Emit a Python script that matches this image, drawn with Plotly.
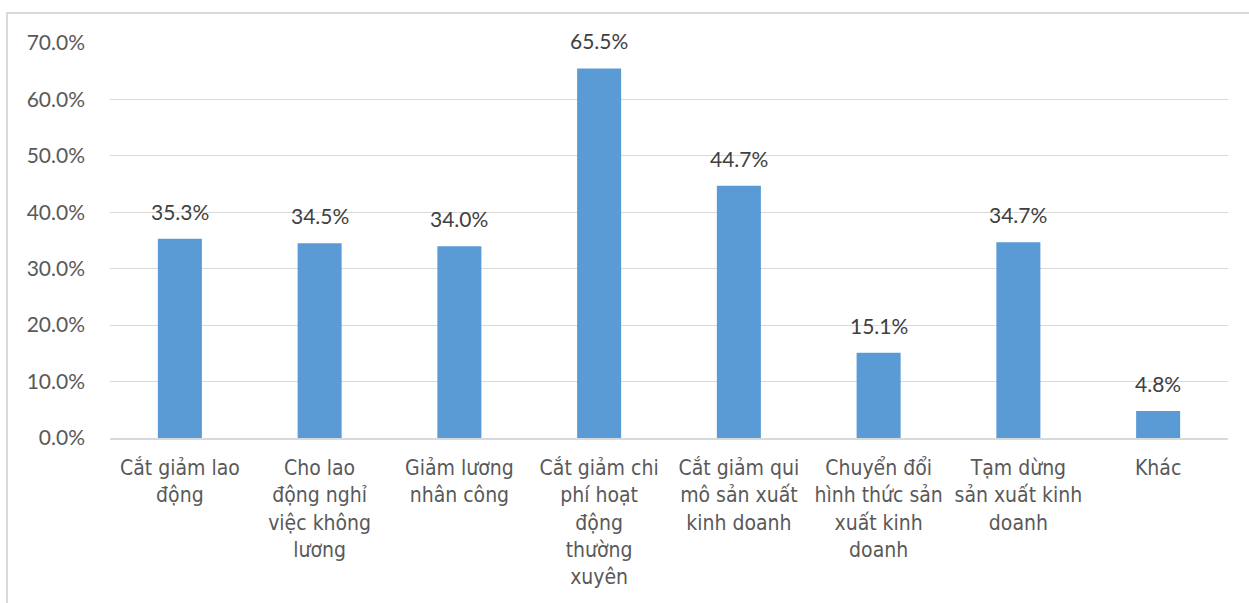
import plotly.graph_objects as go

categories = [
    "Cắt giảm lao<br>động",
    "Cho lao<br>động nghỉ<br>việc không<br>lương",
    "Giảm lương<br>nhân công",
    "Cắt giảm chi<br>phí hoạt<br>động<br>thường<br>xuyên",
    "Cắt giảm qui<br>mô sản xuất<br>kinh doanh",
    "Chuyển đổi<br>hình thức sản<br>xuất kinh<br>doanh",
    "Tạm dừng<br>sản xuất kinh<br>doanh",
    "Khác",
]
values = [35.3, 34.5, 34.0, 65.5, 44.7, 15.1, 34.7, 4.8]
tick_vals = [0, 10, 20, 30, 40, 50, 60, 70]
tick_text = [f"{v:.1f}%" for v in tick_vals]
value_labels = [f"{v:.1f}%" for v in values]
xs = list(range(len(categories)))

fig = go.Figure(go.Bar(
    x=xs,
    y=values,
    marker=dict(color="#5B9BD5", line=dict(width=0)),
    width=0.315,
))

for x, v, t in zip(xs, values, value_labels):
    fig.add_annotation(x=x, y=v, text=t, showarrow=False, yanchor="bottom",
                       yshift=13,
                       font=dict(family="Lato, Open Sans, sans-serif", size=21, color="#404040"))

fig.update_layout(
    width=1249, height=603,
    margin=dict(l=110, r=21, t=43, b=165),
    paper_bgcolor="white", plot_bgcolor="white",
    showlegend=False,
    xaxis=dict(
        tickmode="array",
        tickvals=xs,
        ticktext=categories,
        range=[-0.5, 7.5],
        showgrid=False, zeroline=False,
        showline=True, linecolor="#d9d9d9", linewidth=1.5,
        ticks="",
        ticklabelstandoff=10,
        tickfont=dict(family="Liberation Sans Narrow, DejaVu Sans Condensed, Liberation Sans, sans-serif", size=21, color="#595959"),
        tickangle=0,
    ),
    yaxis=dict(
        range=[0, 70],
        tickmode="array",
        tickvals=tick_vals,
        ticktext=tick_text,
        showgrid=True, gridcolor="#d9d9d9", gridwidth=1,
        zeroline=False, showline=False, ticks="",
        ticklabelstandoff=24,
        tickfont=dict(family="Lato, Open Sans, sans-serif", size=21, color="#595959"),
    ),
    shapes=[
        dict(type="rect", xref="paper", yref="paper",
             x0=-0.0921, x1=1.05, y0=-0.6, y1=1.076,
             line=dict(color="#d9d9d9", width=2), fillcolor="rgba(0,0,0,0)", layer="below"),
    ],
)

fig.write_html("out.html")
